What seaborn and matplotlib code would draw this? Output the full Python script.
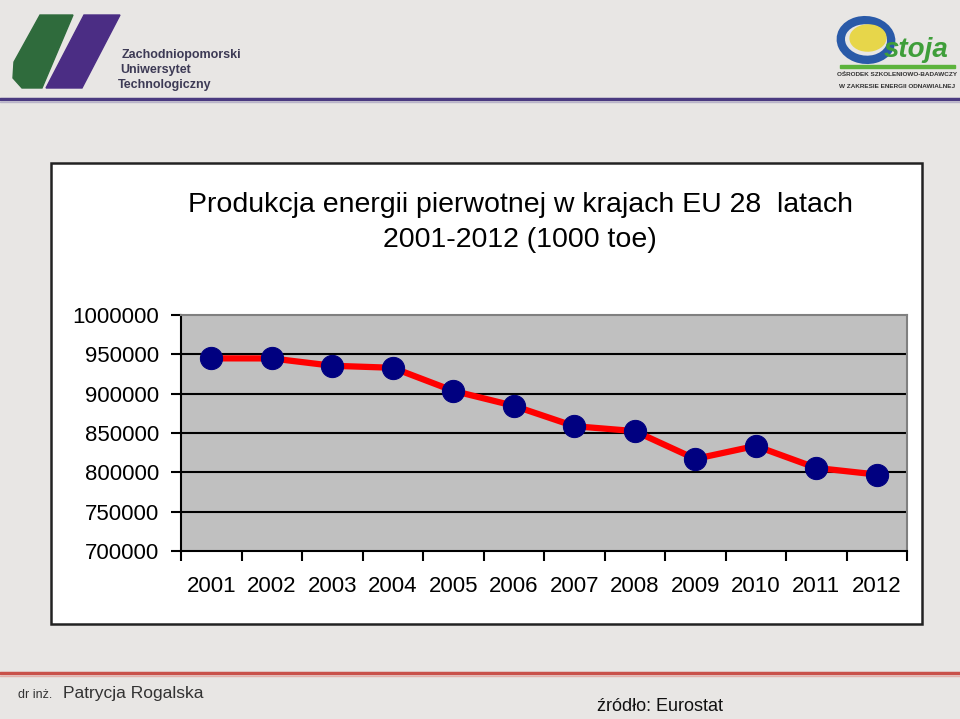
import matplotlib
matplotlib.use("Agg")
import matplotlib.pyplot as plt
import matplotlib.patches as mpatches
import numpy as np
import pandas as pd
import seaborn as sns

# data (1000 toe)
years = ['2001', '2002', '2003', '2004', '2005', '2006',
         '2007', '2008', '2009', '2010', '2011', '2012']
production = [944900, 944800, 935500, 932900, 903600, 884600,
              858700, 852400, 817100, 833600, 805600, 797200]
y_ticks = [700000, 750000, 800000, 850000, 900000, 950000, 1000000]

title_1 = 'Produkcja energii pierwotnej w krajach EU 28  latach'
title_2 = '2001-2012 (1000 toe)'

df = pd.DataFrame({'pos': range(len(years)), 'year': years, 'value': production})

sns.set_style('white')
plt.rcParams['font.family'] = ['Liberation Sans', 'DejaVu Sans']

fig = plt.figure(figsize=(9.6, 7.19), dpi=100)
fig.patch.set_facecolor('#e8e6e4')

W, H = 960, 719
def fx(px):
    return px / W
def fy(py):
    return 1 - py / H

# header: ZUT logo
fig.patches.append(mpatches.Polygon(
    [(fx(40), fy(15)), (fx(73), fy(15)), (fx(42), fy(88)), (fx(22), fy(88)),
     (fx(13), fy(78)), (fx(14), fy(62))],
    closed=True, transform=fig.transFigure, color='#2f6b3c'))
fig.patches.append(mpatches.Polygon(
    [(fx(84), fy(15)), (fx(120), fy(15)), (fx(82), fy(88)), (fx(46), fy(88))],
    closed=True, transform=fig.transFigure, color='#4b2d84'))
for i, t in enumerate(['Zachodniopomorski', 'Uniwersytet', 'Technologiczny']):
    fig.text(fx(118 + (2 - i) * 2), fy(55 + i * 15), t, fontsize=9,
             color='#3d3a55', ha='left', va='center', fontweight='semibold')

# header: Ostoja logo
fig.patches.append(mpatches.Ellipse((fx(866), fy(40)), fx(50), 40 / H, angle=20,
                                    transform=fig.transFigure, fill=False,
                                    edgecolor='#2a5aa8', lw=6))
fig.patches.append(mpatches.Ellipse((fx(868), fy(38)), fx(36), 26 / H, angle=20,
                                    transform=fig.transFigure, color='#e7d64a'))
fig.text(fx(884), fy(50), 'stoja', fontsize=20, fontweight='bold', style='italic',
         color='#3f9e3a', ha='left', va='center')
fig.patches.append(mpatches.Rectangle((fx(840), fy(68)), fx(115), 3 / H,
                                      transform=fig.transFigure, color='#5cb33c'))
fig.text(fx(897), fy(75), 'OŚRODEK SZKOLENIOWO-BADAWCZY', fontsize=4.6,
         fontweight='bold', color='#333333', ha='center', va='center')
fig.text(fx(897), fy(86), 'W ZAKRESIE ENERGII ODNAWIALNEJ', fontsize=4.6,
         fontweight='bold', color='#333333', ha='center', va='center')

# header line
fig.add_artist(plt.Line2D([0, 1], [fy(99), fy(99)], transform=fig.transFigure,
                          color='#4a3a80', lw=2.5))
fig.add_artist(plt.Line2D([0, 1], [fy(102), fy(102)], transform=fig.transFigure,
                          color='#b9b4c9', lw=1))

# footer
fig.add_artist(plt.Line2D([0, 1], [fy(673), fy(673)], transform=fig.transFigure,
                          color='#c9514a', lw=2.5))
fig.add_artist(plt.Line2D([0, 1], [fy(676), fy(676)], transform=fig.transFigure,
                          color='#e3b0ab', lw=1))
fig.text(fx(18), fy(698), 'dr inż.', fontsize=9, color='#333333', ha='left', va='baseline')
fig.text(fx(63), fy(698), 'Patrycja Rogalska', fontsize=12.5, color='#333333',
         ha='left', va='baseline')
fig.text(fx(597), fy(711), 'źródło: Eurostat', fontsize=13, color='#111111',
         ha='left', va='baseline')

# white chart box
fig.patches.append(mpatches.Rectangle((fx(51), fy(624)), fx(871), 461 / H,
                                      transform=fig.transFigure, facecolor='white',
                                      edgecolor='#222222', lw=1.8, zorder=-1))

fig.text(fx(520), fy(205), title_1, fontsize=20.5, ha='center', va='center', color='black')
fig.text(fx(520), fy(240), title_2, fontsize=20.5, ha='center', va='center', color='black')

ax = fig.add_axes([fx(181), fy(551), fx(726), 236 / H])
ax.set_facecolor('#c0c0c0')

sns.lineplot(data=df, x='pos', y='value', ax=ax, color='#ff0000', lw=4.5,
             marker='o', markersize=16, markerfacecolor='#000080',
             markeredgecolor='#000080', zorder=5)

ax.set_xlim(-0.5, len(years) - 0.5)
ax.set_ylim(y_ticks[0], y_ticks[-1])
ax.set_yticks(y_ticks)
ax.set_yticklabels([str(v) for v in y_ticks])
ax.set_xticks(range(len(years)))
ax.set_xticklabels(years)
ax.set_xticks(np.arange(-0.5, len(years)), minor=True)
ax.tick_params(axis='x', which='major', length=0, pad=18, labelsize=16,
               labelcolor='black', bottom=True)
ax.tick_params(axis='x', which='minor', length=7, width=1.5, color='black',
               direction='out', bottom=True)
ax.tick_params(axis='y', which='major', length=7, width=1.5, color='black',
               direction='out', pad=9, labelsize=16, left=True, labelcolor='black')
ax.set_xlabel('')
ax.set_ylabel('')

for v in y_ticks[1:-1]:
    ax.axhline(v, color='black', lw=1.5, zorder=1)

ax.spines['left'].set_color('black')
ax.spines['left'].set_linewidth(1.5)
ax.spines['bottom'].set_color('black')
ax.spines['bottom'].set_linewidth(1.5)
ax.spines['top'].set_color('#808080')
ax.spines['top'].set_linewidth(1.5)
ax.spines['right'].set_color('#808080')
ax.spines['right'].set_linewidth(1.5)
for s in ax.spines.values():
    s.set_visible(True)

fig.savefig('out.png', dpi=100, facecolor=fig.get_facecolor())
